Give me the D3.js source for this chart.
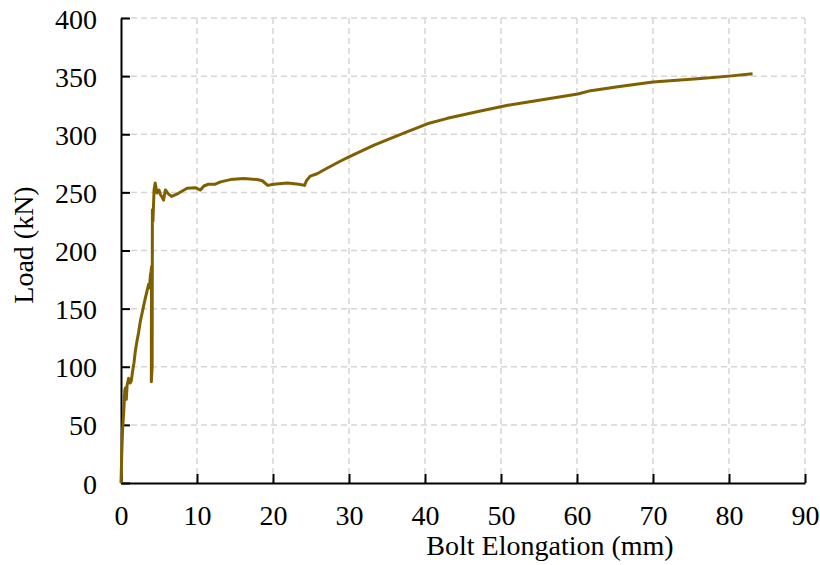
<!DOCTYPE html>
<html>
<head>
<meta charset="utf-8">
<script src="https://cdn.jsdelivr.net/npm/d3@7"></script>
<style>
  html, body { margin: 0; padding: 0; background: #fff; }
  svg { display: block; }
</style>
</head>
<body>
<svg id="chart" width="820" height="565"></svg>
<script>
const elongation = [0, 0.1, 0.2, 0.35, 0.5, 0.6, 0.7, 0.8, 1.0, 1.2, 1.36, 1.5, 1.7, 1.9, 2.1, 2.3, 2.54, 2.77, 3.0, 3.2, 3.42, 3.64, 3.75, 3.86, 3.95, 4.02, 4.0, 3.99, 4.1, 4.13, 4.2, 4.35, 4.5, 4.74, 5.0, 5.2, 5.4, 5.6, 5.84, 6.2, 6.65, 7.5, 8.7, 9.8, 10.45, 10.9, 11.5, 12.4, 13.1, 14.4, 16.15, 17.9, 18.6, 19.3, 20.1, 21.9, 23.4, 24.15, 24.4, 24.9, 25.8, 27.1, 28.9, 30.0, 33.3, 37.2, 40.3, 42.95, 47.3, 50.9, 54.4, 60.1, 61.8, 65.6, 70, 76.3, 80, 83.1];
const load = [0, 25, 45, 60, 80, 82, 72, 84, 90, 86, 88, 95, 103, 114, 122, 129, 139, 146, 153, 159, 165, 171, 168, 178, 182, 186, 140, 87, 100, 235, 225, 252, 258, 249.5, 252, 248, 246, 243.4, 252, 249, 246.5, 249, 253.5, 254, 252, 255.5, 257, 257, 259, 261, 262, 261, 260, 256, 257, 258, 257, 256, 260, 264, 266, 270.7, 277, 280.5, 290.7, 301, 309, 313.7, 320, 325, 328.6, 334.6, 337.5, 341, 345, 348, 350, 352];
const xTicks = [0, 10, 20, 30, 40, 50, 60, 70, 80, 90];
const yTicks = [0, 50, 100, 150, 200, 250, 300, 350, 400];
const xLabel = "Bolt Elongation (mm)";
const yLabel = "Load (kN)";

const FONT = "'Liberation Serif', 'Times New Roman', serif";
const svg = d3.select("#chart");
const mLeft = 121, mRight = 805, mTop = 18, mBottom = 483;
const x = d3.scaleLinear().domain([0, 90]).range([mLeft, mRight]);
const y = d3.scaleLinear().domain([0, 400]).range([mBottom, mTop]);

const grid = svg.append("g").attr("stroke", "#d6d6d6").attr("stroke-width", 1.5).attr("stroke-dasharray", "6,4").attr("fill", "none");
grid.selectAll("line.h").data(yTicks.filter(d => d > 0)).join("line")
  .attr("x1", mLeft).attr("x2", mRight).attr("y1", d => y(d)).attr("y2", d => y(d));
grid.selectAll("line.v").data(xTicks.filter(d => d > 0)).join("line")
  .attr("x1", d => x(d)).attr("x2", d => x(d)).attr("y1", mTop).attr("y2", mBottom);

const xAxis = d3.axisBottom(x).tickValues(xTicks).tickSizeInner(-9).tickSizeOuter(0).tickPadding(22);
const yAxis = d3.axisLeft(y).tickValues(yTicks).tickSizeInner(-9).tickSizeOuter(0).tickPadding(24);
const gx = svg.append("g").attr("transform", `translate(0,${mBottom})`).call(xAxis);
const gy = svg.append("g").attr("transform", `translate(${mLeft},0)`).call(yAxis);
[gx, gy].forEach(g => {
  g.attr("font-family", null).attr("font-size", null);
  g.select(".domain").attr("stroke", "#000").attr("stroke-width", 2);
  g.selectAll(".tick line").attr("stroke", "#000").attr("stroke-width", 2);
  g.selectAll(".tick text").style("font-family", FONT).style("font-size", "28px").attr("fill", "#000");
});
gy.selectAll(".tick text").attr("dy", "0.36em");

const line = d3.line().x((d, i) => x(elongation[i])).y(d => y(d));
svg.append("path").datum(load).attr("d", line)
  .attr("fill", "none").attr("stroke", "#7f6000").attr("stroke-width", 3).attr("stroke-linejoin", "round");

svg.append("text").attr("x", 550).attr("y", 555).attr("text-anchor", "middle")
  .style("font-family", FONT).style("font-size", "28px").text(xLabel);
svg.append("text").attr("transform", "translate(33,245) rotate(-90)").attr("text-anchor", "middle")
  .style("font-family", FONT).style("font-size", "28px").text(yLabel);
</script>
</body>
</html>
